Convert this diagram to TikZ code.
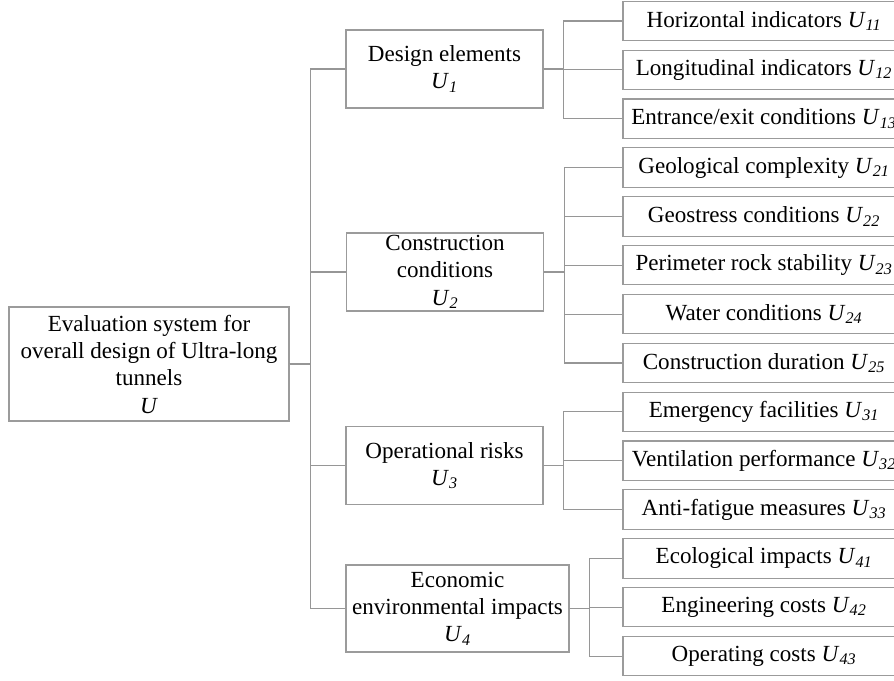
\documentclass[tikz,border=0pt]{standalone}
\usepackage{fontspec}
\setmainfont{Liberation Serif}
\definecolor{boxgray}{RGB}{155,155,155}
\definecolor{linegray}{RGB}{150,150,150}
\newcommand{\Uidx}[1]{\textit{U}\textsubscript{\textit{#1}}}
\tikzset{
	box/.style={draw=boxgray, line width=0.8pt, align=center, inner sep=0pt,
		font=\fontsize{17.3}{20.5}\selectfont},
	leafbox/.style={box, minimum width=211.5pt, minimum height=29.5pt},
	groupbox/.style={box, minimum width=147.75pt, minimum height=58.5pt},
	link/.style={draw=linegray, line width=0.8pt}
}
\begin{document}
\begin{tikzpicture}[x=0.75pt,y=0.75pt,yscale=-1,xscale=1]
		\useasboundingbox (0,0) rectangle (894,681);
		
		% Root
		\node [box, minimum width=210pt, minimum height=85.5pt] (U) at (149,364) {Evaluation system for\\overall design of Ultra-long\\tunnels\\\textit{U}};
		
		% First level
		\node [groupbox] (U1) at (444.5,69) {Design elements\\\Uidx{1}};
		\node [groupbox] (U2) at (445,272) {Construction\\conditions\\\Uidx{2}};
		\node [groupbox] (U3) at (444.5,465.5) {Operational risks\\\Uidx{3}};
		\node [box, minimum width=167.25pt, minimum height=65.25pt] (U4) at (457.5,608.5) {Economic\\environmental impacts\\\Uidx{4}};
		
		% Indicators
		\node [leafbox] (U11) at (764,21) {Horizontal indicators \Uidx{11}};
		\node [leafbox] (U12) at (764,69.9) {Longitudinal indicators \Uidx{12}};
		\node [leafbox] (U13) at (764,118.7) {Entrance/exit conditions \Uidx{13}};
		\node [leafbox] (U21) at (764,167.6) {Geological complexity \Uidx{21}};
		\node [leafbox] (U22) at (764,216.4) {Geostress conditions \Uidx{22}};
		\node [leafbox] (U23) at (764,265.3) {Perimeter rock stability \Uidx{23}};
		\node [leafbox] (U24) at (764,314.1) {Water conditions \Uidx{24}};
		\node [leafbox] (U25) at (764,363) {Construction duration \Uidx{25}};
		\node [leafbox] (U31) at (764,411.8) {Emergency facilities \Uidx{31}};
		\node [leafbox] (U32) at (764,460.7) {Ventilation performance \Uidx{32}};
		\node [leafbox] (U33) at (764,509.5) {Anti-fatigue measures \Uidx{33}};
		\node [leafbox] (U41) at (764,558.4) {Ecological impacts \Uidx{41}};
		\node [leafbox] (U42) at (764,607.2) {Engineering costs \Uidx{42}};
		\node [leafbox] (U43) at (764,656.1) {Operating costs \Uidx{43}};
		
		% Trunk
		\foreach \g in {U1,U2,U3,U4}
			\draw [link] (U.east) -- ++(21,0) |- (\g.west);
		
		% Branches
		\foreach \l in {U11,U12,U13}
			\draw [link] (U1.east) -- ++(20,0) |- (\l.west);
		\foreach \l in {U21,U22,U23,U24,U25}
			\draw [link] (U2.east) -- ++(20,0) |- (\l.west);
		\foreach \l in {U31,U32,U33}
			\draw [link] (U3.east) -- ++(20,0) |- (\l.west);
		\foreach \l in {U41,U42,U43}
			\draw [link] (U4.east) -- ++(20,0) |- (\l.west);
		
	\end{tikzpicture}
\end{document}
